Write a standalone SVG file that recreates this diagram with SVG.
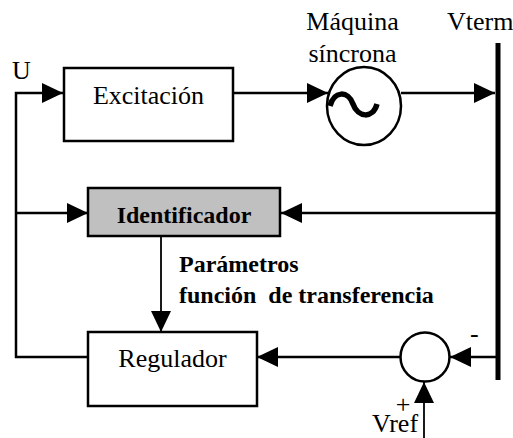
<svg xmlns="http://www.w3.org/2000/svg" width="513" height="438" viewBox="0 0 513 438">
<style>
.t{font-family:"Liberation Serif","Times New Roman",serif;font-size:26px;fill:#000}
.b{font-family:"Liberation Serif","Times New Roman",serif;font-size:24px;font-weight:bold;fill:#000}
.box{fill:#fff;stroke:#000;stroke-width:2.5}
.ln{fill:none;stroke:#000;stroke-width:2.5}
.thin{fill:none;stroke:#000;stroke-width:1.8}
</style>
<defs>
<marker id="ah" markerUnits="userSpaceOnUse" markerWidth="21" markerHeight="20" refX="21" refY="10" orient="auto" viewBox="0 0 21 20">
<path d="M0,0 L21,10 L0,20 z" fill="#000"/>
</marker>
</defs>
<rect width="513" height="438" fill="#fff"/>
<g id="connectors">
<path class="ln" d="M88,357 H16 V93 H63" marker-end="url(#ah)"/>
<path class="ln" d="M233,93 H328" marker-end="url(#ah)"/>
<path class="ln" d="M401,93 H495" marker-end="url(#ah)"/>
<path class="ln" d="M16,213 H88" marker-end="url(#ah)"/>
<path class="ln" d="M497,213 H281" marker-end="url(#ah)"/>
<path class="thin" d="M161,236 V332" marker-end="url(#ah)"/>
<path class="ln" d="M400,357 H257" marker-end="url(#ah)"/>
<path class="ln" d="M497,357 H450" marker-end="url(#ah)"/>
<path class="thin" d="M424,438 V382" marker-end="url(#ah)"/>
</g>
<g id="bus">
<rect x="495.5" y="43" width="5" height="337" fill="#000"/>
<text class="t" x="447" y="30">Vterm</text>
</g>
<g id="input-u">
<text class="t" x="12" y="79">U</text>
</g>
<g id="excitacion">
<rect class="box" x="64" y="68" width="169" height="73"/>
<text class="t" x="148.5" y="104" text-anchor="middle">Excitación</text>
</g>
<g id="maquina">
<ellipse cx="364" cy="106" rx="37" ry="39" fill="#fff" stroke="#000" stroke-width="2.5"/>
<path d="M330,106 C334,91 348,90 353,104 C358,118 373,119 377,104" fill="none" stroke="#000" stroke-width="5.5"/>
<text class="t" x="352.5" y="30" text-anchor="middle">Máquina</text>
<text class="t" x="352.5" y="62" text-anchor="middle">síncrona</text>
</g>
<g id="identificador">
<rect x="88" y="188" width="192" height="48" fill="#c0c0c0" stroke="#000" stroke-width="2.5"/>
<text class="b" x="184" y="223" text-anchor="middle">Identificador</text>
</g>
<g id="parametros">
<text class="b" x="179" y="272">Parámetros</text>
<text class="b" x="179" y="303" xml:space="preserve">función  de transferencia</text>
</g>
<g id="regulador">
<rect class="box" x="88" y="332" width="169" height="74"/>
<text class="t" x="172.5" y="367" text-anchor="middle">Regulador</text>
</g>
<g id="sumador">
<circle cx="425" cy="357" r="24.5" fill="#fff" stroke="#000" stroke-width="2.5"/>
<text class="t" x="470" y="342" font-size="22">-</text>
<text class="t" x="403" y="413" text-anchor="middle" font-size="21">+</text>
<text class="t" x="372" y="432" font-size="25">Vref</text>
</g>
</svg>
